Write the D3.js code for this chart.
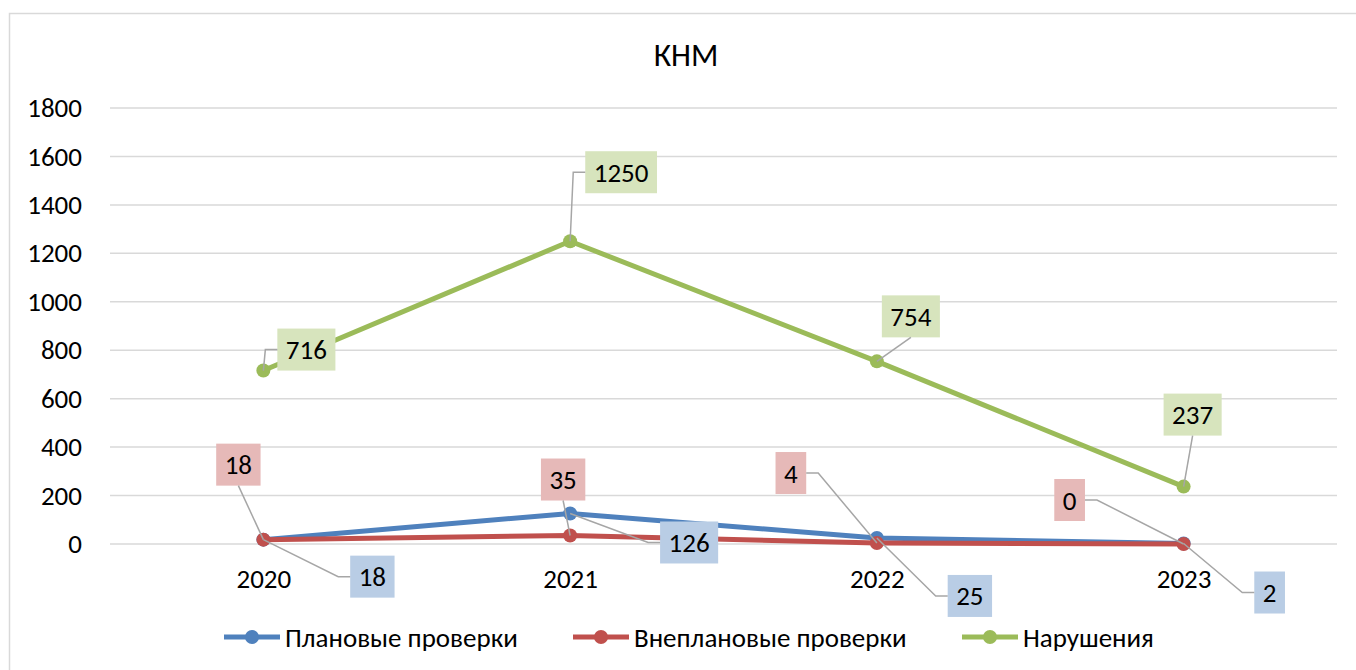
<!DOCTYPE html>
<html>
<head>
<meta charset="utf-8">
<script src="https://cdn.jsdelivr.net/npm/d3@7"></script>
<style>
  body { margin: 0; background: #fff; }
  text { font-family: Calibri, Carlito, Lato, sans-serif; fill: #000; }
</style>
</head>
<body>
<div id="chart"></div>
<script>
var years = ["2020", "2021", "2022", "2023"];
var seriesNames = ["Плановые проверки", "Внеплановые проверки", "Нарушения"];
var planned = [18, 126, 25, 2];
var unplanned = [18, 35, 4, 0];
var violations = [716, 1250, 754, 237];
var yTicks = [0, 200, 400, 600, 800, 1000, 1200, 1400, 1600, 1800];

var param = {
  width : 1356,
  height : 670,
  left : 110,
  right : 1337,
  top : 108,
  bottom : 544,
  fontSize : 27
}

// label box centre offsets from the point, and which side the leader leaves from
var labelLayout = [
  [{dx: 109, dy: 37, side: "left"}, {dx: 119, dy: 29, side: "left"}, {dx: 93, dy: 58, side: "left"}, {dx: 86, dy: 49, side: "left"}],
  [{dx: -25, dy: -75, side: "bottom"}, {dx: -7, dy: -56, side: "bottom"}, {dx: -86, dy: -70, side: "right"}, {dx: -114, dy: -44, side: "right"}],
  [{dx: 43, dy: -21, side: "left"}, {dx: 51, dy: -69, side: "left"}, {dx: 34, dy: -45, side: "bottom"}, {dx: 9, dy: -72, side: "bottom"}]
];

var colors = ["#4f81bd", "#c0504d", "#9bbb59"];
var boxColors = ["#b9cde5", "#e6b9b8", "#d7e4bd"];

function draw() {
  var series = [planned, unplanned, violations];

  var svg = d3.select("#chart")
              .append("svg")
              .attr("width", param.width)
              .attr("height", param.height);

  svg.append("rect")
     .attr("x", 9.5).attr("y", 13.5)
     .attr("width", 1360).attr("height", 700)
     .style("fill", "#fff")
     .style("stroke", "#d9d9d9")
     .style("stroke-width", 1.5);

  var x = d3.scalePoint().domain(years).range([param.left, param.right]).padding(0.5);
  var y = d3.scaleLinear().domain([0, 1800]).range([param.bottom, param.top]);

  svg.append("text")
     .attr("x", 686).attr("y", 66)
     .attr("text-anchor", "middle")
     .style("font-size", "32px")
     .text("КНМ");

  // grid
  svg.selectAll(".grid")
     .data(yTicks)
     .enter()
     .append("line")
     .attr("x1", param.left).attr("x2", param.right)
     .attr("y1", function(d) {return y(d)})
     .attr("y2", function(d) {return y(d)})
     .style("stroke", "#d9d9d9")
     .style("stroke-width", 1.5);

  var yAxis = svg.append("g")
                 .attr("transform", "translate(" + 82 + ",0)")
                 .call(d3.axisLeft(y).tickValues(yTicks).tickFormat(d3.format("d")).tickSize(0).tickPadding(0));
  yAxis.select(".domain").remove();
  yAxis.selectAll("text")
       .style("font-size", param.fontSize + "px")
       .style("font-family", "Calibri, Carlito, Lato, sans-serif");

  var xAxis = svg.append("g")
                 .attr("transform", "translate(0," + 569 + ")")
                 .call(d3.axisBottom(x).tickSize(0).tickPadding(0));
  xAxis.select(".domain").remove();
  xAxis.selectAll("text")
       .style("font-size", param.fontSize + "px")
       .style("font-family", "Calibri, Carlito, Lato, sans-serif");

  var line = d3.line()
               .x(function(d, i) {return x(years[i])})
               .y(function(d) {return y(d)});

  series.forEach(function(values, s) {
    svg.append("path")
       .datum(values)
       .attr("d", line)
       .style("fill", "none")
       .style("stroke", colors[s])
       .style("stroke-width", 5)
       .style("stroke-linejoin", "round");

    svg.selectAll(".dot" + s)
       .data(values)
       .enter()
       .append("circle")
       .attr("cx", function(d, i) {return x(years[i])})
       .attr("cy", function(d) {return y(d)})
       .attr("r", 7)
       .style("fill", colors[s]);
  });

  // labels with leader lines
  series.forEach(function(values, s) {
    values.forEach(function(v, i) {
      var px = x(years[i]), py = y(v);
      var lay = labelLayout[s][i];
      var cx = px + lay.dx, cy = py + lay.dy;
      var g = svg.append("g");
      var txt = g.append("text")
                 .attr("x", cx).attr("y", cy)
                 .attr("text-anchor", "middle")
                 .attr("dominant-baseline", "central")
                 .style("font-size", param.fontSize + "px")
                 .text(v);
      var w = txt.node().getComputedTextLength() + 17, h = 42;
      g.insert("rect", "text")
       .attr("x", cx - w/2).attr("y", cy - h/2)
       .attr("width", w).attr("height", h)
       .style("fill", boxColors[s]);

      var pts;
      if (lay.side == "left") {
        pts = [[cx - w/2, cy], [cx - w/2 - 12, cy], [px, py]];
      } else if (lay.side == "right") {
        pts = [[cx + w/2, cy], [cx + w/2 + 12, cy], [px, py]];
      } else {
        pts = [[cx, cy + h/2], [px, py]];
      }
      svg.append("path")
         .attr("d", d3.line()(pts))
         .style("fill", "none")
         .style("stroke", "#a6a6a6")
         .style("stroke-width", 1.5);
    });
  });

  // legend
  var legendX = [224, 573, 962];
  seriesNames.forEach(function(name, s) {
    var g = svg.append("g").attr("transform", "translate(" + legendX[s] + ",637)");
    g.append("line")
     .attr("x1", 0).attr("x2", 56)
     .style("stroke", colors[s])
     .style("stroke-width", 5);
    g.append("circle").attr("cx", 28).attr("r", 7).style("fill", colors[s]);
    g.append("text")
     .attr("x", 61).attr("y", 0)
     .attr("dominant-baseline", "central")
     .style("font-size", param.fontSize + "px")
     .text(name);
  });
}

draw();
</script>
</body>
</html>
